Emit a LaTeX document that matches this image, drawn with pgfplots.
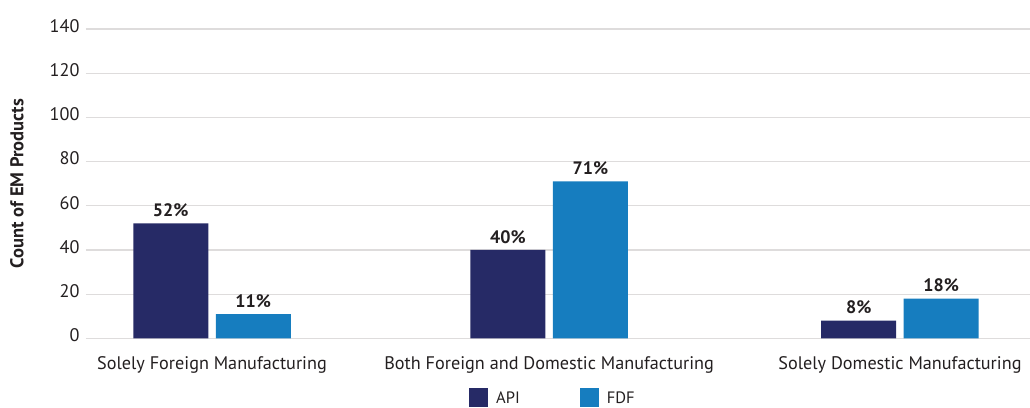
\documentclass[border=0pt]{standalone}
\usepackage{fontspec}
\setmainfont{PT Sans}
\usepackage{pgfplots}
\pgfplotsset{compat=1.18}
\definecolor{api}{HTML}{262A66}
\definecolor{fdf}{HTML}{167DBF}
\definecolor{txt}{HTML}{231F20}
\definecolor{grd}{HTML}{DEDCDC}
\begin{document}
\begin{tikzpicture}
\begin{axis}[
  at={(0pt,0pt)}, anchor=south west,
  scale only axis, width=944pt, height=309.3pt,
  xmin=-0.3663, xmax=2.378, ymin=0, ymax=140,
  ytick={0,20,...,140},
  xtick={0,0.98,2},
  xticklabels={Solely Foreign Manufacturing, Both Foreign and Domestic Manufacturing, Solely Domestic Manufacturing},
  ymajorgrids, grid style={grd, line width=1.2pt},
  axis line style={draw=none}, major tick length=0pt,
  /pgf/number format/assume math mode=true,
  ticklabel style={font=\fontsize{18.2}{21}\selectfont, text=txt},
  yticklabel style={xshift=-3pt, yshift=3pt},
  xticklabel style={yshift=-15pt},
  ylabel={Count of EM Products},
  every axis y label/.style={at={(axis description cs:0,0.5)}, xshift=-69pt, rotate=90, anchor=center, font=\bfseries\fontsize{18.5}{21}\selectfont, text=txt},
  ybar=7.5pt, bar width=75pt,
  nodes near coords={\pgfmathprintnumber{\pgfplotspointmeta}\%},
  every node near coord/.append style={font=\bfseries\fontsize{18}{21}\selectfont, text=txt, anchor=south, yshift=3pt},
  legend style={at={(axis description cs:0.4947,-0.193)}, anchor=center, draw=none, fill=none, legend columns=2, font=\fontsize{16.5}{19}\selectfont, text=txt, /tikz/every even column/.append style={column sep=58pt}, /tikz/every odd column/.append style={column sep=6pt}},
  legend image code/.code={\fill[#1,/tikz/.cd] (0pt,-9.5pt) rectangle (19pt,9.5pt);},
]
\addplot[fill=api, draw=none] coordinates {(0,52) (0.98,40) (2,8)};
\addplot[fill=fdf, draw=none] coordinates {(0,11) (0.98,71) (2,18)};
\legend{API, FDF}
\end{axis}
\pgfresetboundingbox
\path[use as bounding box] (-86pt,-68.7pt) rectangle (944pt,338.3pt);
\end{tikzpicture}
\end{document}
